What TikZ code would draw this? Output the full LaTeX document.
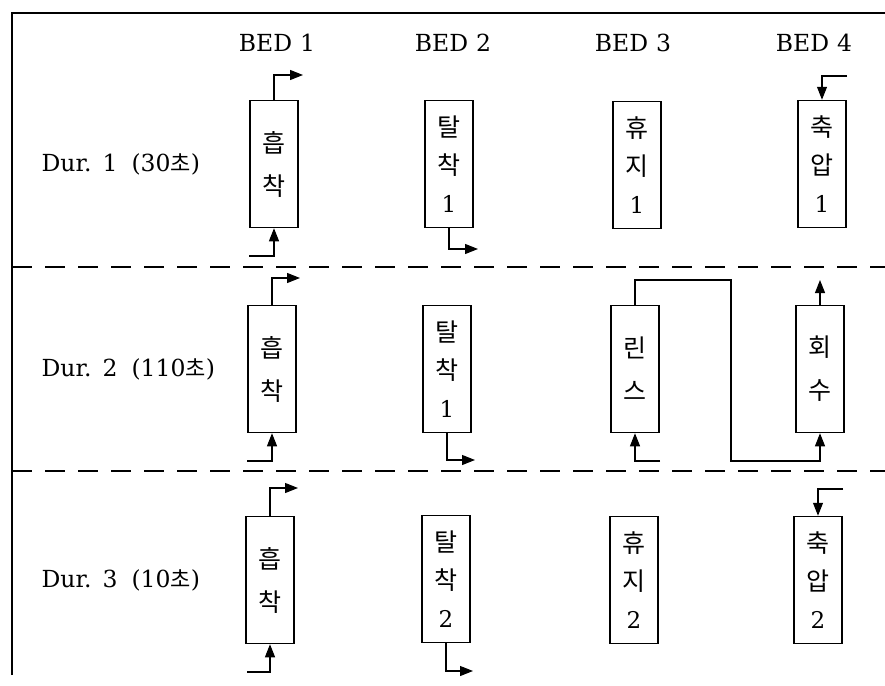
\documentclass[tikz,border=0pt]{standalone}
\usepackage{fontspec}
\setmainfont{DejaVu Serif}
\newfontfamily\kr{Noto Sans CJK KR}
\usetikzlibrary{arrows.meta}

\tikzset{
  bedbox/.style={draw, line width=1.5pt, minimum width=48pt, minimum height=127pt,
    inner sep=0pt, align=center, font=\kr\fontsize{25}{38}\selectfont},
  flow/.style={line width=1.1pt, -{Triangle[length=13pt,width=10pt]}},
  split/.style={line width=2.2pt, dash pattern=on 20pt off 13pt},
  lbl/.style={font=\fontsize{23.5}{28}\selectfont}
}
\newcommand{\num}[1]{{\rmfamily\fontsize{23}{38}\selectfont #1}}
\newcommand{\cho}{{\kr\fontsize{22}{28}\selectfont 초}}

\begin{document}
\begin{tikzpicture}[x=1pt,y=-1pt]
\useasboundingbox (0,0) rectangle (885,685);
% frame and period separators
\draw[line width=2.5pt] (12,675) -- (12,13) -- (885,13);
\draw[split] (12,267) -- (885,267);
\draw[split] (12,471) -- (885,471);

% bed headers
\node[lbl] (bed1) at (277,43) {BED\hspace{8pt}1};
\node[lbl] (bed2) at (453,43) {BED\hspace{8pt}2};
\node[lbl] (bed3) at (633,43) {BED\hspace{8pt}3};
\node[lbl] (bed4) at (814,43) {BED\hspace{8pt}4};

% period labels
\node[lbl, anchor=west] (dur1) at (38,164) {Dur.\hspace{11pt}1\hspace{14pt}(30\cho)};
\node[lbl, anchor=west] (dur2) at (38,369) {Dur.\hspace{11pt}2\hspace{14pt}(110\cho)};
\node[lbl, anchor=west] (dur3) at (38,580) {Dur.\hspace{11pt}3\hspace{14pt}(10\cho)};

% period 1
\node[bedbox] (b11) at (274,164) {흡\\[5pt]착};
\node[bedbox] (b12) at (449,164) {탈\\착\\\num{1}};
\node[bedbox] (b13) at (637,165) {휴\\지\\\num{1}};
\node[bedbox] (b14) at (822,164) {축\\압\\\num{1}};
\coordinate (in11) at (249,256);
\coordinate (out11) at (303,75);
\coordinate (out12) at (478,249);
\coordinate (in14) at (847,76);
\draw[flow] (in11) -| (b11.south);
\draw[flow] (b11.north) |- (out11);
\draw[flow] (b12.south) |- (out12);
\draw[flow] (in14) -| (b14.north);

% period 2
\node[bedbox] (b21) at (272,369) {흡\\[5pt]착};
\node[bedbox] (b22) at (447,369) {탈\\착\\\num{1}};
\node[bedbox] (b23) at (635,369) {린\\[5pt]스};
\node[bedbox] (b24) at (820,369) {회\\[5pt]수};
\coordinate (in21) at (247,461);
\coordinate (out21) at (300,278);
\coordinate (out22) at (475,460);
\coordinate (in23) at (660,461);
\coordinate (r1) at (731,280);
\coordinate (r2) at (731,461);
\coordinate (out24) at (820,280);
\draw[flow] (in21) -| (b21.south);
\draw[flow] (b21.north) |- (out21);
\draw[flow] (b22.south) |- (out22);
\draw[flow] (in23) -| (b23.south);
\draw[flow] (b23.north) |- (r1) -- (r2) -| (b24.south);
\draw[flow] (b24.north) -- (out24);

% period 3
\node[bedbox] (b31) at (270,580) {흡\\[5pt]착};
\node[bedbox] (b32) at (446,579) {탈\\착\\\num{2}};
\node[bedbox] (b33) at (634,580) {휴\\지\\\num{2}};
\node[bedbox] (b34) at (818,580) {축\\압\\\num{2}};
\coordinate (in31) at (247,672);
\coordinate (out31) at (298,488);
\coordinate (out32) at (473,671);
\coordinate (in34) at (843,489);
\draw[flow] (in31) -| (b31.south);
\draw[flow] (b31.north) |- (out31);
\draw[flow] (b32.south) |- (out32);
\draw[flow] (in34) -| (b34.north);
\end{tikzpicture}
\end{document}
